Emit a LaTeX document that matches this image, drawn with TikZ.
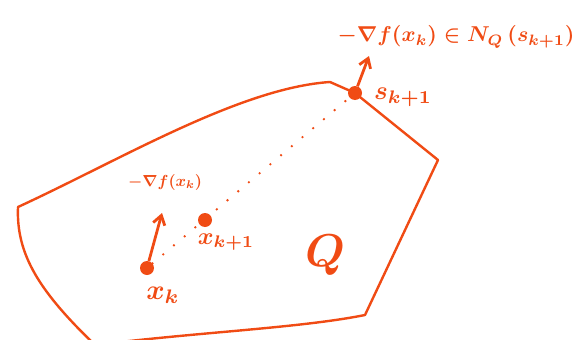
\documentclass[tikz,border=0pt]{standalone}
\usetikzlibrary{arrows.meta}
\definecolor{ink}{RGB}{240,75,20}
\begin{document}
\begin{tikzpicture}[x=1pt,y=-1pt,
  edge/.style={draw=ink,line width=2.4pt,line join=round,line cap=round},
  pt/.style={circle,fill=ink,inner sep=0pt,minimum size=14pt},
  lbl/.style={text=ink,inner sep=0pt,font=\boldmath},
  grad/.style={draw=ink,line width=2.8pt,-{Straight Barb[length=9pt,width=12pt]}},
  dots/.style={draw=ink,line width=2.6pt,dash pattern=on 0pt off 14pt,line cap=round}]
\useasboundingbox (0,0) rectangle (584,340);
\coordinate (v1) at (18,207);
\coordinate (v2) at (330,82);
\coordinate (v4) at (438,160);
\coordinate (v5) at (365,315);
\coordinate (v6) at (95,345);
\node[pt] (s) at (355,93) {};
\node[pt] (xk) at (147,268) {};
\node[pt] (xk1) at (205,220) {};
\draw[edge] (v1) .. controls (120,160) and (240,88) .. (v2) -- (s.center) -- (v4) -- (v5) .. controls (300,328) and (200,332) .. (v6);
\draw[edge] (v1) .. controls (16,255) and (40,292) .. (v6);
\draw[dots] (xk) -- (s);
\coordinate (gtip) at (162,213);
\draw[grad] (xk) -- (gtip);
\coordinate (stip) at (369,56);
\draw[grad] (s) -- (stip);
\node[lbl] (glab) at (165,182) {\scalebox{1.6}{$-\nabla f(x_k)$}};
\node[lbl] (lk1) at (226,242) {\scalebox{2.4}{$x_{k+1}$}};
\node[lbl] (lk) at (163,295) {\scalebox{2.8}{$x_k$}};
\node[lbl] (Q) at (325,255) {\scalebox{4.6}{$Q$}};
\node[lbl] (ls) at (403,97) {\scalebox{2.6}{$s_{k+1}$}};
\node[lbl] (top) at (456,37) {\scalebox{2.15}{$-\nabla f(x_k)\in N_Q\,(s_{k+1})$}};
\end{tikzpicture}
\end{document}
